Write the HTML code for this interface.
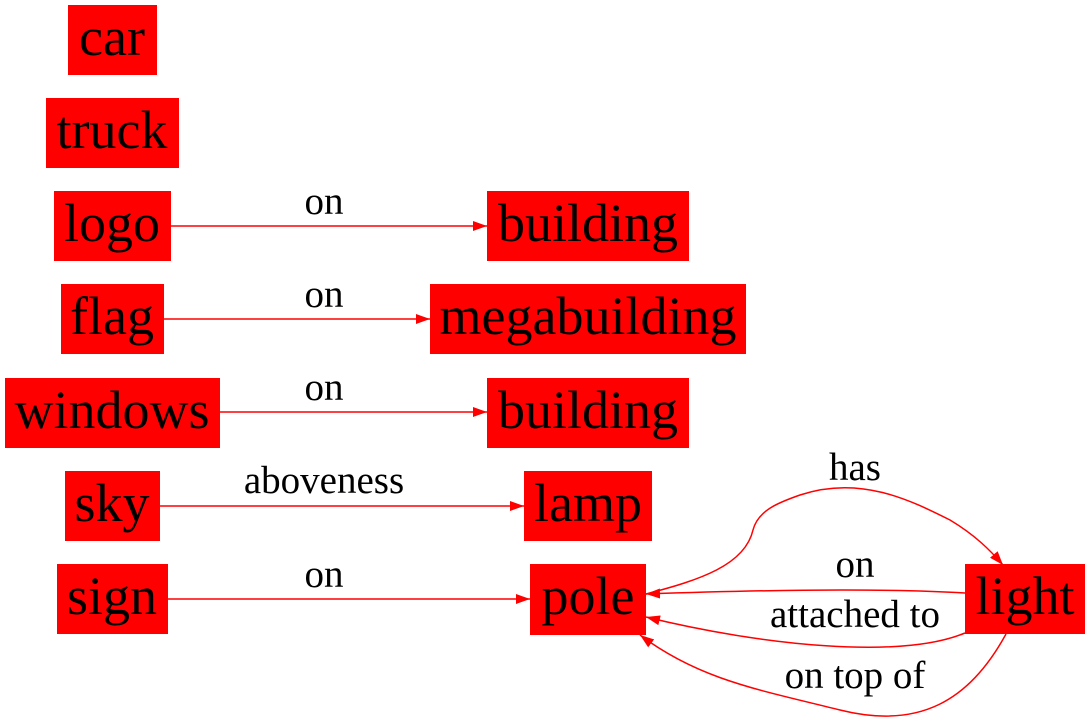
<!DOCTYPE html>
<html><head><meta charset="utf-8"><style>
html,body{margin:0;padding:0;background:#fff;}
svg{display:block;}
.n{font-family:"Liberation Serif",serif;font-size:54px;fill:#000;text-anchor:middle;}
.l{font-family:"Liberation Serif",serif;font-size:39px;fill:#000;text-anchor:middle;}
</style></head><body>
<svg width="1091" height="726" viewBox="0 0 1091 726" xmlns="http://www.w3.org/2000/svg">
<defs>
<marker id="b" markerWidth="14" markerHeight="10" refX="14" refY="5" orient="auto" markerUnits="userSpaceOnUse"><path d="M0,0 L14,5 L0,10 Z" fill="#f00"/></marker></defs>
<g fill="#f00">
<rect x="68" y="5" width="89" height="70"/>
<rect x="46" y="98" width="133" height="70"/>
<rect x="54" y="191" width="117" height="70"/>
<rect x="61" y="284" width="103" height="70"/>
<rect x="5" y="378" width="215" height="70"/>
<rect x="65" y="471" width="95" height="70"/>
<rect x="57" y="564" width="111" height="70"/>
<rect x="487" y="191" width="202" height="70"/>
<rect x="430" y="284" width="316" height="70"/>
<rect x="487" y="378" width="202" height="70"/>
<rect x="524" y="471" width="128" height="70"/>
<rect x="530" y="564" width="116" height="71"/>
<rect x="965" y="564" width="120" height="70"/>
</g>
<g stroke="#f00" stroke-width="1.5" fill="none" marker-end="url(#b)">
<path d="M171,226 L487,226"/>
<path d="M164,319 L430,319"/>
<path d="M220,412 L487,412"/>
<path d="M160,506 L524,506"/>
<path d="M168,599 L530,599"/>
<path d="M646,594 C700,580 745,565 753,530 C758,510 780,502 800,495 C860,475 910,500 950,520 C975,535 990,550 1003,565"/>
<path d="M965,593 C880,588 760,590 646,594"/>
<path d="M965,633 C900,660 760,645 646,617"/>
<path d="M1006,634 C970,700 920,730 840,710 C760,690 700,680 640,635"/>
</g>
<g class="n">
<text x="112" y="55">car</text>
<text x="112" y="148">truck</text>
<text x="112" y="241">logo</text>
<text x="112" y="334">flag</text>
<text x="112" y="428">windows</text>
<text x="112" y="521">sky</text>
<text x="112" y="614">sign</text>
<text x="588" y="241">building</text>
<text x="588" y="334">megabuilding</text>
<text x="588" y="428">building</text>
<text x="588" y="521">lamp</text>
<text x="588" y="614">pole</text>
<text x="1025" y="614">light</text>
</g>
<g class="l">
<text x="324" y="214">on</text>
<text x="324" y="307">on</text>
<text x="324" y="400">on</text>
<text x="324" y="493">aboveness</text>
<text x="324" y="587">on</text>
<text x="855" y="480">has</text>
<text x="855" y="577">on</text>
<text x="855" y="627">attached to</text>
<text x="855" y="688">on top of</text>
</g>
</svg>
</body></html>
